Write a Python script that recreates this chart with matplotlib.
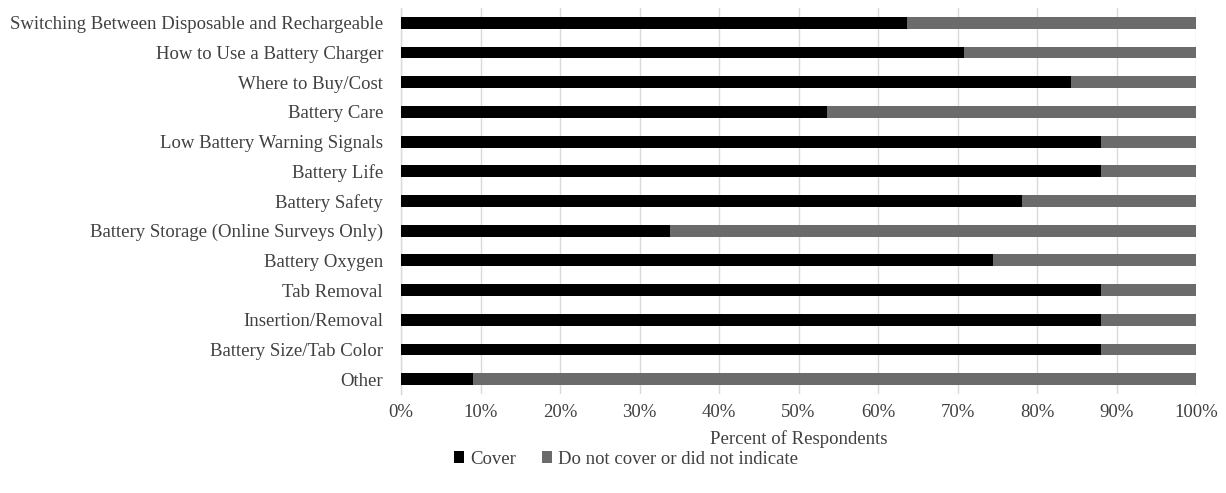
import matplotlib
matplotlib.use("Agg")
import matplotlib.pyplot as plt
from matplotlib.patches import Patch
import numpy as np

categories = [
    "Switching Between Disposable and Rechargeable",
    "How to Use a Battery Charger",
    "Where to Buy/Cost",
    "Battery Care",
    "Low Battery Warning Signals",
    "Battery Life",
    "Battery Safety",
    "Battery Storage (Online Surveys Only)",
    "Battery Oxygen",
    "Tab Removal",
    "Insertion/Removal",
    "Battery Size/Tab Color",
    "Other",
]
cover = [63.6, 70.8, 84.3, 53.6, 88.1, 88.1, 78.1, 33.8, 74.5, 88.1, 88.1, 88.1, 9.0]
not_cover = [100 - v for v in cover]
xticks = [0, 10, 20, 30, 40, 50, 60, 70, 80, 90, 100]
xtick_labels = [f"{t}%" for t in xticks]

plt.rcParams["font.family"] = ["Liberation Serif", "DejaVu Serif"]
text_color = "#404040"
grid_color = "#d9d9d9"
black = "#000000"
grey = "#6b6b6b"
fs = 13.5

W, H = 1226, 493
fig = plt.figure(figsize=(W / 100, H / 100), dpi=100)
ax = fig.add_axes([401 / W, 1 - 394 / H, (1196 - 401) / W, (394 - 8) / H])

y = np.arange(len(categories))
ax.barh(y, cover, height=0.4, color=black, zorder=3)
ax.barh(y, not_cover, left=cover, height=0.4, color=grey, zorder=3)

ax.set_xlim(0, 100)
ax.set_ylim(len(categories) - 0.5, -0.5)
ax.set_xticks(xticks)
ax.set_xticklabels(xtick_labels)
ax.set_yticks(y)
ax.set_yticklabels(categories)
ax.tick_params(axis="both", length=0, labelsize=fs, colors=text_color)
ax.tick_params(axis="x", pad=7)
ax.tick_params(axis="y", pad=13)
ax.xaxis.grid(True, color=grid_color, linewidth=1, zorder=0)
for side in ("top", "right", "bottom"):
    ax.spines[side].set_visible(False)
ax.spines["left"].set_color(grid_color)
ax.spines["left"].set_linewidth(1)

ax.set_xlabel("Percent of Respondents", fontsize=fs, color=text_color, labelpad=7)

handles = [Patch(facecolor=black, label="Cover"),
           Patch(facecolor=grey, label="Do not cover or did not indicate")]
fig.legend(handles=handles, loc="center", bbox_to_anchor=(626 / W, 1 - 459 / H),
           ncol=2, frameon=False, fontsize=fs, labelcolor=text_color,
           handlelength=0.55, handleheight=0.55, handletextpad=0.3, columnspacing=1.4)

fig.savefig("out.png", dpi=100, facecolor="white")
